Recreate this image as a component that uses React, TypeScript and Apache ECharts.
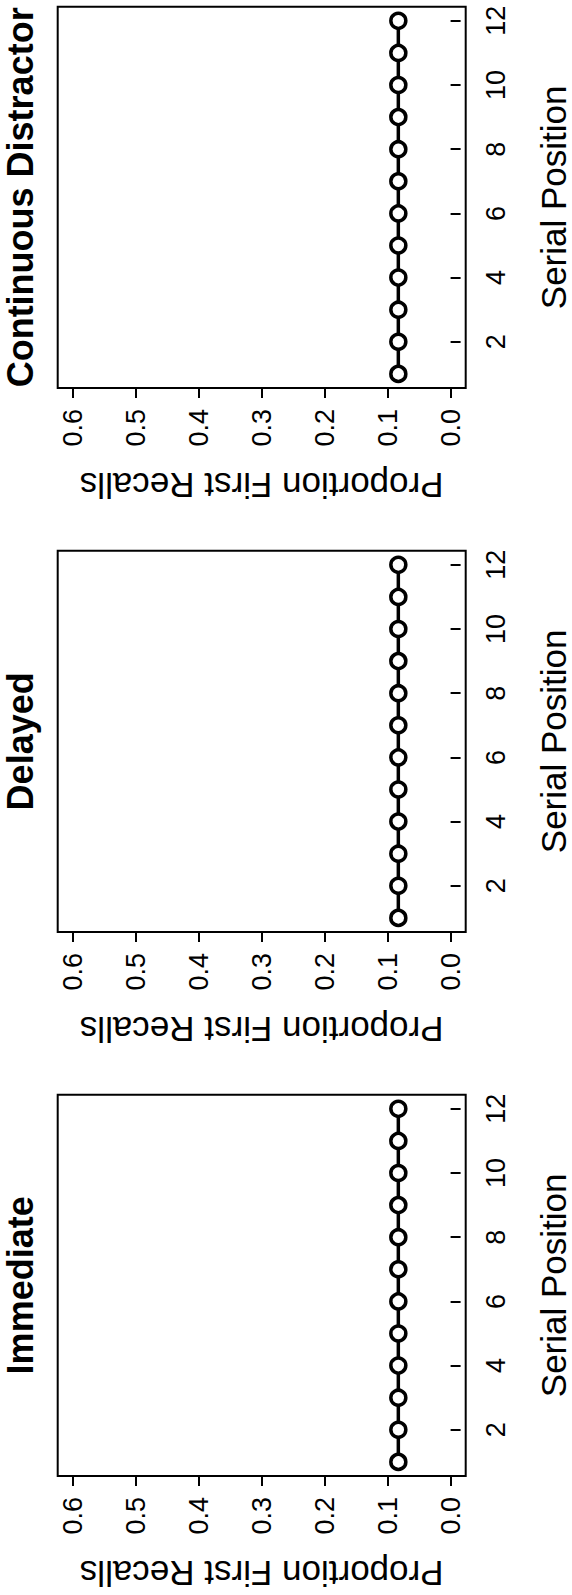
import React, { useEffect, useRef } from "react";
import * as echarts from "echarts";

// ---- data ----
const serialPositions = [1, 2, 3, 4, 5, 6, 7, 8, 9, 10, 11, 12];
const immediateValues = [0.083, 0.083, 0.083, 0.083, 0.083, 0.083, 0.083, 0.083, 0.083, 0.083, 0.083, 0.083];
const delayedValues = [0.083, 0.083, 0.083, 0.083, 0.083, 0.083, 0.083, 0.083, 0.083, 0.083, 0.083, 0.083];
const continuousValues = [0.083, 0.083, 0.083, 0.083, 0.083, 0.083, 0.083, 0.083, 0.083, 0.083, 0.083, 0.083];
const panelTitles = ["Continuous Distractor", "Delayed", "Immediate"];
const proportionTicks = [0, 0.1, 0.2, 0.3, 0.4, 0.5, 0.6];
const positionTicks = [2, 4, 6, 8, 10, 12];
const xAxisTitle = "Proportion First Recalls";
const yAxisTitle = "Serial Position";

const FONT = "'Liberation Sans', Arial, Helvetica, sans-serif";

export default function App() {
  const ref = useRef<HTMLDivElement | null>(null);

  useEffect(() => {
    document.body.style.margin = "0";
    if (!ref.current) return;
    const chart = echarts.init(ref.current, undefined, { renderer: "svg" });

    const panelValues = [continuousValues, delayedValues, immediateValues];
    const gridLeft = 57.7;
    const gridWidth = 408;
    const gridHeight = 381.3;
    const firstTop = 6.7;
    const step = 544;

    const grids: any[] = [];
    const xAxes: any[] = [];
    const yAxes: any[] = [];
    const series: any[] = [];
    const graphics: any[] = [];

    panelValues.forEach((vals, i) => {
      const top = firstTop + step * i;
      grids.push({
        left: gridLeft,
        top,
        width: gridWidth,
        height: gridHeight,
        containLabel: false,
        outerBoundsMode: "none",
        show: true,
        borderColor: "#000",
        borderWidth: 2,
        backgroundColor: "transparent",
      });
      xAxes.push({
        type: "value",
        gridIndex: i,
        min: -0.024,
        max: 0.624,
        inverse: true,
        position: "bottom",
        axisLine: { show: false },
        splitLine: { show: false },
        axisTick: {
          show: true,
          length: 10,
          customValues: proportionTicks,
          lineStyle: { color: "#000", width: 2 },
        },
        axisLabel: {
          customValues: proportionTicks,
          formatter: (v: number) => v.toFixed(1),
          rotate: 90,
          margin: 21,
          fontSize: 27,
          color: "#000",
          fontFamily: FONT,
        },
        name: xAxisTitle,
        nameLocation: "middle",
        nameRotate: 180,
        nameGap: 83,
        nameTextStyle: { fontSize: 35, lineHeight: 28, color: "#000", fontFamily: FONT },
      });
      yAxes.push({
        type: "value",
        gridIndex: i,
        min: 0.56,
        max: 12.44,
        position: "right",
        axisLine: { show: false },
        splitLine: { show: false },
        axisTick: {
          show: true,
          length: 10,
          customValues: positionTicks,
          lineStyle: { color: "#000", width: 2 },
        },
        axisLabel: {
          customValues: positionTicks,
          rotate: 90,
          margin: 17,
          fontSize: 27,
          color: "#000",
          fontFamily: FONT,
        },
        name: yAxisTitle,
        nameLocation: "middle",
        nameRotate: 90,
        nameGap: 74,
        nameTextStyle: { fontSize: 35, lineHeight: 28, color: "#000", fontFamily: FONT },
      });
      series.push({
        type: "line",
        xAxisIndex: i,
        yAxisIndex: i,
        data: vals.map((v, k) => [v, serialPositions[k]]),
        symbol: "circle",
        symbolSize: 15,
        showSymbol: true,
        itemStyle: { color: "#fff", borderColor: "#000", borderWidth: 3.5 },
        lineStyle: { color: "#000", width: 3.5 },
        z: 3,
      });
      graphics.push({
        type: "text",
        x: 20.3,
        y: top + gridHeight / 2,
        rotation: Math.PI / 2,
        style: {
          text: panelTitles[i],
          fontSize: 36,
          fontWeight: "bold",
          fontFamily: FONT,
          fill: "#000",
          align: "center",
          verticalAlign: "middle",
        },
      });
    });

    chart.setOption({
      animation: false,
      backgroundColor: "#fff",
      grid: grids,
      xAxis: xAxes,
      yAxis: yAxes,
      series,
      graphic: graphics,
    });

    return () => {
      chart.dispose();
    };
  }, []);

  return <div ref={ref} style={{ width: 572, height: 1595 }} />;
}
